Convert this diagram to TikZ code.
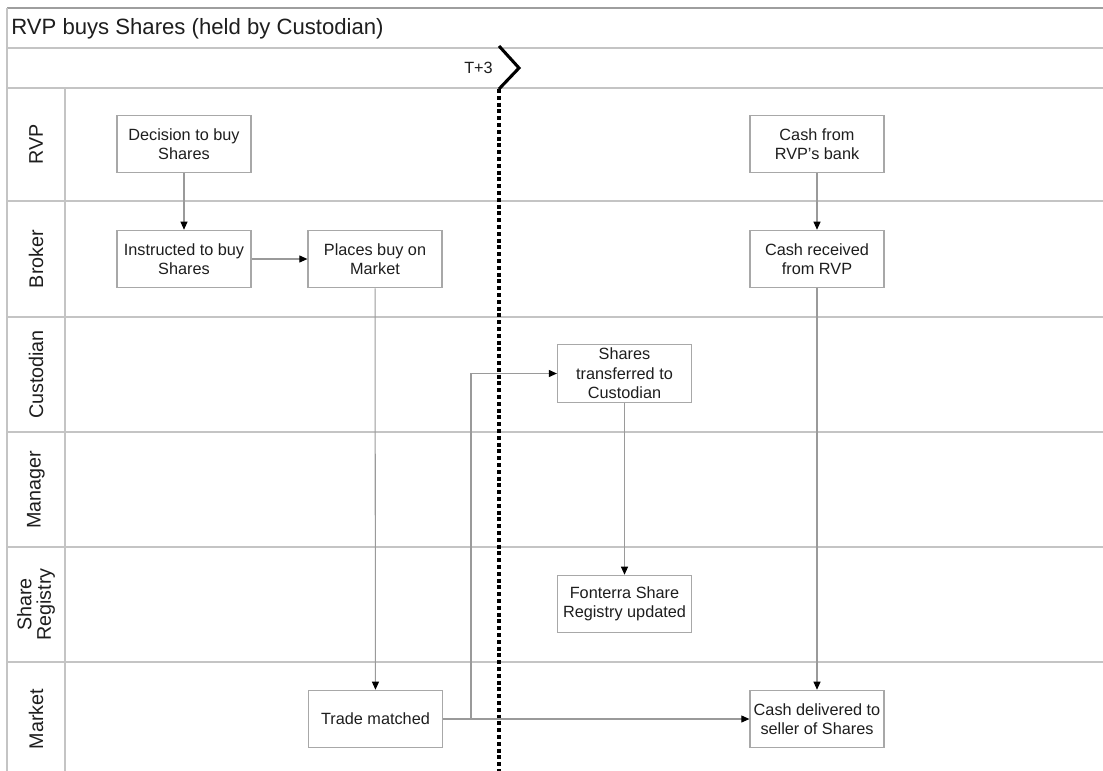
\documentclass[tikz,border=0pt]{standalone}
\usepackage{fontspec}
\setmainfont{Liberation Sans}
\usetikzlibrary{arrows.meta}

\definecolor{gridline}{HTML}{C4C4C4}
\definecolor{topline}{HTML}{9E9E9E}
\definecolor{boxline}{HTML}{A8A8A8}
\definecolor{flowline}{HTML}{9A9A9A}
\definecolor{ink}{HTML}{1E1E1E}

\tikzset{
  lane/.style={draw=gridline, line width=1.3pt},
  task/.style={draw=boxline, line width=0.9pt, fill=white, text=ink,
    minimum width=100.5pt, minimum height=43pt, inner sep=2pt,
    align=center, font=\fontsize{12.2}{14.5}\selectfont},
  flow/.style={draw=flowline, line width=0.8pt,
    -{Triangle[length=6pt,width=5.2pt,color=black]}},
  lanelabel/.style={rotate=90, text=ink, align=center,
    font=\fontsize{14.8}{14.5}\selectfont},
  milestone/.style={draw=black, line width=2.3pt},
}

\begin{document}
\begin{tikzpicture}[x=0.75pt,y=-0.75pt]
\useasboundingbox (0,0) rectangle (1103,771);
\fill[white] (0,0) rectangle (1103,771);

% pool frame, title row and phase row
\draw[draw=topline, line width=1.2pt] (7,8) -- (1103,8);
\draw[lane] (7,8) -- (7,771);
\draw[lane] (7,48) -- (1103,48);
\draw[lane] (7,88) -- (1103,88);
\node[anchor=base west, inner sep=0pt, text=ink, font=\fontsize{16.6}{18}\selectfont]
  (title) at (11,34) {RVP buys Shares (held by Custodian)};
\node[anchor=base east, inner sep=0pt, text=ink, font=\fontsize{12.2}{14}\selectfont]
  (phase) at (493,73.5) {T+3};

% lane separators and header column
\draw[lane] (65,88) -- (65,771);
\foreach \y in {201,317,432,547,662}
  \draw[lane] (7,\y) -- (1103,\y);

\node[lanelabel] (lRVP) at (36,144.5) {RVP};
\node[lanelabel] (lBroker) at (36,259) {Broker};
\node[lanelabel] (lCustodian) at (36,374.5) {Custodian};
\node[lanelabel] (lManager) at (36,489.5) {Manager};
\node[lanelabel] (lRegistry) at (36,604.5) {Share\\Registry};
\node[lanelabel] (lMarket) at (36,719) {Market};

% T+3 milestone
\coordinate (msTop) at (499,46);
\coordinate (msTip) at (519,68);
\coordinate (msBot) at (499,89);
\coordinate (msEnd) at (499,771);
\draw[milestone, line join=miter] (msTop) -- (msTip) -- (msBot);
\draw[milestone, dash pattern=on 3pt off 2.1pt] (msBot) -- (msEnd);

% activities
\node[task] (decide)   at (184,144)   {Decision to buy\\Shares};
\node[task] (instruct) at (184,259)   {Instructed to buy\\Shares};
\node[task] (place)    at (375,259)   {Places buy on\\Market};
\node[task] (cashbank) at (817,144)   {Cash from\\RVP’s bank};
\node[task] (cashrecv) at (817,259)   {Cash received\\from RVP};
\node[task] (transfer) at (624.5,373.5) {Shares\\transferred to\\Custodian};
\node[task] (registry) at (624.5,604) {Fonterra Share\\Registry updated};
\node[task] (trade)    at (375.5,719) {Trade matched};
\node[task] (cashdel)  at (817,719)   {Cash delivered to\\seller of Shares};

% flows
\draw[flow] (decide) -- (instruct);
\draw[flow] (instruct) -- (place);
\draw[flow] (place) -- (trade);
\draw[flow] (cashbank) -- (cashrecv);
\draw[flow] (cashrecv) -- (cashdel);
\draw[flow] (transfer) -- (registry);
\draw[flow] (trade) -- (cashdel);
\coordinate (split) at (471,719);
\draw[flow] (trade.east) -- (split) |- (transfer.west);
\end{tikzpicture}
\end{document}
